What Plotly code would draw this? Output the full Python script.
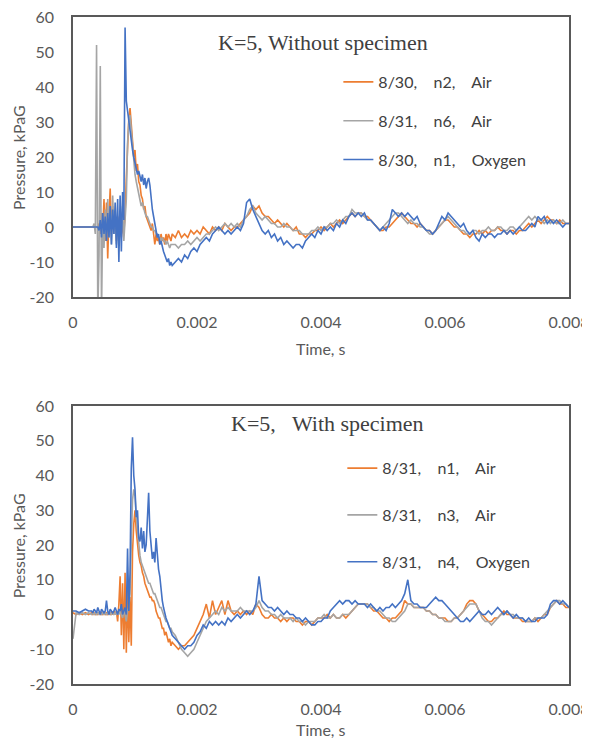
import numpy as np
import plotly.graph_objects as go

# ---- time grid (ms): coarse baseline, fine near the blast, medium afterwards ----
time_ms = np.round(np.concatenate([
    np.linspace(0.00, 0.25, 6),
    np.linspace(0.30, 1.60, 66),
    np.linspace(1.65, 8.00, 128),
]), 3)
time_s = time_ms / 1000.0

# ---------------- TOP: K=5, Without specimen ----------------
top_n2_air = [
    0, 0, 0, 0, 0, 0,
    0, 0, 0, 0, 0, 0, 1, -2, 4, -1,
    8, -4, 7, -9, 3, 11, -2, 6, -1, 4,
    -4, 3, -1, 2, -3, 1, -2, 4, 14, 25,
    31, 34, 29, 24, 20, 22, 16, 18, 13, 12,
    9, 8, 5, 6, 3, 2, 1, 0, -1, 1,
    -3, -5, -2, -4, -3, -5, -2, -4, -3, -5,
    -2, -4, -2, -3, -4, -2,
    -3, -1, -3, -2, -3, -1, -2, -1, -2, 0, -1, -2, 0, -1, 0, -1, 1, 0, -1, 0,
    0, 1, 2, 3, 4, 6, 5, 6, 4, 3, 3, 2, 1, 2, 1, 0, 1, 0, -1, 0,
    -2, -2, -3, -2, -2, -1, -1, 0, -1, 0, 1, 0, 1, 2, 1, 2, 3, 4, 3, 4,
    4, 3, 3, 2, 1, 0, -1, -1, 0, 0, 1, 2, 3, 4, 3, 2, 1, 1, 0, 1,
    0, -1, -1, -2, -1, 0, 1, 2, 2, 1, 0, 0, -1, -2, -2, -3, -2, -2, -1, -2,
    -1, -2, -1, -1, 0, -1, -1, -2, -1, -1, -2, -1, -1, 0, 1, 0, 1, 2, 1, 2,
    3, 2, 2, 1, 2, 1, 1, 1,
]
top_n6_air = [
    0, 0, 0, 0, 0, 0,
    0, 0, 1, -2, 52, -25, -8, 46, -25, 4,
    -6, 5, -4, 8, -3, 6, -5, 9, -2, 4,
    -5, 3, -3, 5, -2, 6, -4, 3, 8, 24,
    30, 32, 27, 22, 19, 15, 13, 11, 9, 8,
    6, 7, 5, 4, 3, 3, 2, 1, 0, 0,
    -1, -1, -2, -2, -3, -3, -4, -3, -4, -4,
    -5, -4, -5, -6, -5, -5,
    -5, -6, -5, -5, -4, -5, -4, -3, -4, -3, -2, -2, -1, 0, -1, 0, 1, 0, 1, 0,
    1, 0, 2, 3, 5, 6, 4, 3, 2, 3, 2, 1, 1, 0, 0, 1, 0, 0, -1, -1,
    -1, -2, -2, -2, -1, -1, 0, -1, 0, 0, 1, 1, 2, 1, 2, 3, 3, 5, 4, 4,
    4, 3, 2, 2, 1, 0, -1, 0, 1, 2, 3, 4, 4, 3, 2, 1, 2, 1, 1, 0,
    0, -1, -2, -2, -1, 0, 1, 2, 3, 2, 1, 0, -1, -1, -2, -2, -1, -1, -2, -1,
    -1, 0, -1, -1, 0, 0, -1, -1, 0, 0, -1, 0, 1, 2, 3, 2, 3, 2, 2, 1,
    2, 1, 2, 1, 1, 2, 1, 1,
]
top_n1_oxygen = [
    0, 0, 0, 0, 0, 0,
    0, 0, 0, 0, 0, 0, -1, 2, -3, 4,
    -2, 3, -4, 4, -3, 6, -5, 5, -2, 7,
    -6, 8, -10, 9, -7, 10, 2, 57, 36, 33,
    30, 27, 25, 22, 20, 18, 17, 15, 16, 14,
    13, 15, 12, 14, 11, 13, 14, 12, 8, 5,
    3, 1, -1, -3, -2, -5, -4, -6, -7, -8,
    -9, -10, -9, -11, -10, -11,
    -10, -9, -10, -8, -9, -7, -6, -7, -5, -4, -3, -4, -2, -1, 0, -1, -2, -1, -2, -1,
    0, -1, 1, 7, 8, 5, 3, 1, -1, -2, -1, -3, -2, -4, -3, -5, -4, -5, -6, -5,
    -5, -6, -4, -3, -2, -3, -1, -2, 0, -1, 0, -1, 1, 0, 2, 1, 3, 4, 3, 4,
    3, 4, 2, 2, 1, 0, -1, 0, -1, 1, 5, 4, 3, 4, 3, 4, 3, 2, 3, 1,
    0, -1, -1, -2, -1, 1, 3, 2, 4, 3, 2, 1, 0, 1, -1, -2, -1, -3, -4, -2,
    -3, -2, -2, -3, -2, -2, -1, -2, -1, -2, -1, 0, -1, -1, 0, 1, 0, 3, 2, 3,
    1, 2, 1, 2, 1, 0, 1, 1,
]

# ---------------- BOTTOM: K=5, With specimen ----------------
bot_n1_air = [
    0.5, 0, 0.5, 0, 0.5, 0,
    0.5, 0, 0.5, 0, 0.5, 0, 0.5, 0, 0.5, 0,
    0.5, 0, 0.5, 0, 0.5, 0, 0.5, 0, 1, 0,
    1, -2, 3, 11, -6, 9, -10, 12, -11, 7,
    -8, 5, -9, 18, 26, 30, 24, 19, 17, 15,
    14, 12, 11, 9, 8, 7, 6, 5, 5, 4,
    4, 3, 1, 0, -1, -1, -3, -4, -4, -6,
    -5, -7, -8, -7, -9, -8,
    -9, -10, -9, -9, -8, -7, -6, -4, -2, 0, 3, -1, 4, 0, 2, 4, 0, 4, 1, 0,
    1, 0, 1, 0, 1, 0, 3, 2, 0, -1, -1, 0, -1, -1, -2, -1, -2, -1, -1, -2,
    -2, -3, -2, -2, -3, -2, -1, -1, -1, 0, -1, 0, -1, -1, 0, -1, 0, 1, 2, 3,
    3, 3, 3, 2, 1, 1, 0, -1, -1, -2, -1, -1, 0, 1, 4, 3, 3, 2, 2, 2,
    2, 1, 1, 0, 0, -1, -1, -1, -2, -2, -1, -1, 0, 1, 3, 4, 4, 3, 1, 0,
    -1, -2, -2, -1, -1, 0, 1, 0, 0, -1, -1, -1, -2, -2, -2, -2, -1, -2, -1, 0,
    0, 2, 3, 4, 3, 3, 2, 2,
]
bot_n3_air = [
    -7, 0.5, 0, 0.5, 0, 0.5,
    0, 0.5, 0, 0.5, 0, 0.5, 0, 0.5, 0, 0.5,
    0, 0.5, 0, 0.5, 0, 0.5, 0, 0.5, 0, 0.5,
    0, 0.5, 0, 1, 0, -1, 1, 0, -2, 1,
    2, 6, 20, 33, 36, 34, 28, 24, 20, 17,
    15, 14, 13, 12, 11, 10, 9, 9, 8, 7,
    6, 6, 5, 4, 3, 2, 2, 1, 0, -1,
    -2, -2, -3, -4, -4, -5,
    -6, -8, -10, -11, -12, -11, -10, -8, -6, -4, -2, -1, 0, 1, 0, 2, 1, 2, 1, 1,
    1, 2, 1, 1, 1, 1, 2, 4, 2, 1, 1, 0, 0, -1, 0, -1, -1, -1, -2, -1,
    -2, -2, -3, -2, -2, -2, -1, -1, 0, -1, -1, 0, -1, -1, 0, 0, 0, 1, 2, 3,
    3, 3, 3, 2, 2, 1, 1, 0, -1, -1, -2, -2, -1, 0, 1, 3, 3, 2, 2, 2,
    2, 1, 1, 0, 0, -1, -1, -2, -2, -2, -1, -1, 0, 1, 2, 3, 3, 3, 1, -1,
    -2, -2, -3, -2, -1, 0, 0, 1, 0, 0, -1, -1, -1, -2, -2, -2, -1, -1, -1, 0,
    1, 2, 3, 4, 4, 3, 3, 2,
]
bot_n4_oxygen = [
    1, 1, 0.5, 1, 1.5, 1,
    1, 0.5, 1.5, 1, 0.5, 2, 1, 0, 1.5, 1,
    0.5, 1, 4, 1, 0, 1.5, 1, 0.5, 1, 2,
    1, 0, 1.5, 1, 3, 0, 1, 2, 0, 19,
    1, 12, 42, 51, 40, 36, 28, 30, 22, 21,
    25, 19, 24, 18, 20, 28, 35, 24, 20, 16,
    18, 15, 22, 16, 13, 11, 7, 4, 2, 0,
    -1, -2, -3, -4, -5, -6,
    -7, -8, -9, -10, -9, -9, -8, -6, -5, -3, -4, -2, -3, -2, -3, -2, -3, -1, -2, -1,
    0, -1, 0, 1, 0, 1, 3, 11, 4, 3, 2, 2, 1, 2, 1, 0, 1, 0, 0, -1,
    -1, -2, -1, -2, -3, -3, -2, -2, -1, -1, 1, 2, 3, 4, 3, 4, 4, 3, 4, 3,
    3, 3, 2, 3, 2, 1, 2, 1, 2, 2, 3, 2, 3, 4, 6, 10, 4, 3, 3, 2,
    2, 2, 3, 4, 5, 4, 4, 3, 2, 1, 0, -1, -2, -2, -1, -2, -1, 0, 1, 0,
    0, 1, 0, 1, 2, 1, 0, 1, 0, -1, 0, -1, -1, -2, -1, -2, -2, -1, -1, -1,
    0, 3, 4, 4, 3, 4, 3, 2,
]

SP = "\u00a0\u00a0\u00a0 "
top_names = [f"8/30,{SP}n2,{SP}Air", f"8/31,{SP}n6,{SP}Air", f"8/30,{SP}n1,{SP}Oxygen"]
bot_names = [f"8/31,{SP}n1,{SP}Air", f"8/31,{SP}n3,{SP}Air", f"8/31,{SP}n4,{SP}Oxygen"]
colors = ["#ED7D31", "#A5A5A5", "#4472C4"]

x_tickvals = [0, 0.002, 0.004, 0.006, 0.008]
x_ticktext = ["0", "0.002", "0.004", "0.006", "0.008"]
y_tickvals = [-20, -10, 0, 10, 20, 30, 40, 50, 60]
y_ticktext = ["-20", "-10", "0", "10", "20", "30", "40", "50", "60"]

for arr in (top_n2_air, top_n6_air, top_n1_oxygen, bot_n1_air, bot_n3_air, bot_n4_oxygen):
    if len(arr) != len(time_s):
        raise ValueError(f"length mismatch {len(arr)} vs {len(time_s)}")

fig = go.Figure()
for i, (vals, name) in enumerate(zip([top_n2_air, top_n6_air, top_n1_oxygen], top_names)):
    fig.add_trace(go.Scatter(x=time_s, y=vals, mode="lines", name=name,
                             line=dict(color=colors[i], width=1.6),
                             xaxis="x", yaxis="y", legend="legend", legendgroup=f"t{i}"))
for i, (vals, name) in enumerate(zip([bot_n1_air, bot_n3_air, bot_n4_oxygen], bot_names)):
    fig.add_trace(go.Scatter(x=time_s, y=vals, mode="lines", name=name,
                             line=dict(color=colors[i], width=1.6),
                             xaxis="x2", yaxis="y2", legend="legend2", legendgroup=f"b{i}"))

SANS = "Lato, Open Sans, sans-serif"
tick_font = dict(family=SANS, size=16, color="#595959")
axis_common = dict(showline=True, mirror=True, linecolor="#595959", linewidth=1.5,
                   showgrid=False, zeroline=False, ticks="", tickfont=tick_font,
                   automargin=False, ticklabeloverflow="allow")

# page has an 8px body margin: figure occupies page pixels 8..590 x 8..738
fig.update_layout(
    width=582, height=730,
    margin=dict(l=65, r=21, t=9, b=54, autoexpand=False),
    paper_bgcolor="white", plot_bgcolor="white",
    xaxis=dict(domain=[0, 1], range=[0, 0.008], anchor="y", tickvals=x_tickvals,
               ticktext=x_ticktext, ticklabelstandoff=10, **axis_common),
    yaxis=dict(domain=[0.5802, 1], range=[-20, 60], anchor="x", tickvals=y_tickvals,
               ticktext=y_ticktext, ticklabelstandoff=14, **axis_common),
    xaxis2=dict(domain=[0, 1], range=[0, 0.008], anchor="y2", tickvals=x_tickvals,
                ticktext=x_ticktext, ticklabelstandoff=10, **axis_common),
    yaxis2=dict(domain=[0, 0.4168], range=[-20, 60], anchor="x2", tickvals=y_tickvals,
                ticktext=y_ticktext, ticklabelstandoff=14, **axis_common),
    legend=dict(x=0.535, y=0.928, xanchor="left", yanchor="top", bgcolor="rgba(0,0,0,0)",
                font=dict(family=SANS, size=16, color="#404040"),
                tracegroupgap=15, itemwidth=30),
    legend2=dict(x=0.543, y=0.349, xanchor="left", yanchor="top", bgcolor="rgba(0,0,0,0)",
                 font=dict(family=SANS, size=16, color="#404040"),
                 tracegroupgap=23, itemwidth=30),
    showlegend=True,
    annotations=[
        dict(text="K=5, Without specimen", x=0.505, y=0.9625, xref="paper", yref="paper",
             xanchor="center", yanchor="middle", showarrow=False,
             font=dict(family="Liberation Serif, serif", size=22, color="#404040")),
        dict(text="K=5,\u00a0\u00a0 With specimen", x=0.513, y=0.391, xref="paper", yref="paper",
             xanchor="center", yanchor="middle", showarrow=False,
             font=dict(family="Liberation Serif, serif", size=22, color="#404040")),
        dict(text="Time, s", x=0.499, y=0.5037, xref="paper", yref="paper",
             xanchor="center", yanchor="middle", showarrow=False,
             font=dict(family=SANS, size=16, color="#595959")),
        dict(text="Time, s", x=0.499, y=-0.0675, xref="paper", yref="paper",
             xanchor="center", yanchor="middle", showarrow=False,
             font=dict(family=SANS, size=16, color="#595959")),
        dict(text="Pressure, kPaG", x=-0.111, y=0.79, xref="paper", yref="paper", textangle=-90,
             xanchor="center", yanchor="middle", showarrow=False,
             font=dict(family=SANS, size=16, color="#595959")),
        dict(text="Pressure, kPaG", x=-0.111, y=0.208, xref="paper", yref="paper", textangle=-90,
             xanchor="center", yanchor="middle", showarrow=False,
             font=dict(family=SANS, size=16, color="#595959")),
    ],
)

fig.write_html("out.html")
